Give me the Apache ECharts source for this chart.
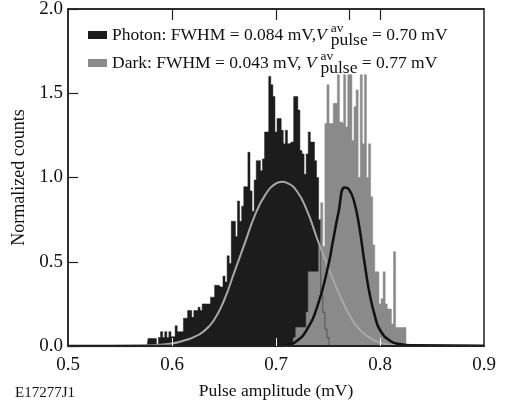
<!DOCTYPE html>
<html>
<head>
<meta charset="utf-8">
<script src="https://cdn.jsdelivr.net/npm/echarts@6.0.0/dist/echarts.min.js"></script>
<style>
  html, body { margin: 0; padding: 0; background: #fff; }
  #main { width: 510px; height: 401px; }
</style>
</head>
<body>
<div id="main"></div>
<script>
// histogram bins (mV), 0.002 mV wide
const binWidth = 0.002;
const photonStart = 0.576;
const photonCounts = [
  0, 0.045, 0.045, 0.045, 0.045, 0.01, 0.05, 0.085, 0.05, 0.085,
  0.05, 0.085, 0.055, 0.055, 0.12, 0.085, 0.085, 0.085, 0.165, 0.165,
  0.21, 0.21, 0.17, 0.21, 0.21, 0.23, 0.21, 0.25, 0.25, 0.25,
  0.25, 0.29, 0.29, 0.36, 0.36, 0.35, 0.35, 0.415, 0.38, 0.535,
  0.49, 0.74, 0.74, 0.65, 0.86, 0.74, 0.83, 0.945, 0.945, 1.15,
  0.92, 0.80, 0.985, 1.10, 1.10, 1.04, 1.11, 1.27, 1.27, 1.60,
  1.55, 1.48, 1.27, 1.35, 1.35, 1.28, 1.20, 1.28, 1.20, 1.21,
  1.21, 1.48, 1.48, 1.40, 1.16, 1.14, 1.02, 1.14, 1.27, 1.21,
  1.21, 1.10, 1.00, 0.75, 0.30, 0.20, 0.10, 0.05, 0
];
const darkStart = 0.716;
const darkCounts = [
  0, 0.05, 0.11, 0.11, 0.11, 0.11, 0.11, 0.2, 0.44, 0.44,
  0.44, 0.44, 0.44, 0.6, 0.85, 0.59, 1.32, 1.55, 1.32, 1.32,
  1.44, 1.44, 1.61, 1.33, 1.32, 1.61, 1.30, 1.61, 1.61, 1.22,
  1.42, 1.52, 1.0, 1.61, 1.2, 1.61, 1.0, 1.2, 0.886, 0.6,
  0.44, 0.44, 0.25, 0.28, 0.44, 0.25, 0.22, 0.22, 0.13, 0.56,
  0.11, 0.11, 0.11, 0.11, 0.11, 0
];

// gaussian fit curves
const photonFitX = [0.50, 0.58, 0.60, 0.61, 0.62, 0.63, 0.64, 0.65, 0.66, 0.67, 0.68, 0.69, 0.70, 0.706, 0.71, 0.72, 0.73, 0.74, 0.75, 0.76, 0.77, 0.78, 0.79, 0.80, 0.82, 0.90];
const photonFitY = [0, 0.005, 0.015, 0.03, 0.05, 0.085, 0.15, 0.27, 0.44, 0.61, 0.78, 0.9, 0.965, 0.975, 0.97, 0.92, 0.8, 0.63, 0.47, 0.32, 0.19, 0.1, 0.05, 0.02, 0.004, 0];
const darkFitX = [0.50, 0.70, 0.71, 0.72, 0.73, 0.74, 0.75, 0.755, 0.76, 0.766, 0.77, 0.775, 0.78, 0.785, 0.79, 0.795, 0.80, 0.81, 0.82, 0.83, 0.90];
const darkFitY = [0, 0, 0.005, 0.03, 0.1, 0.24, 0.47, 0.63, 0.79, 0.94, 0.93, 0.86, 0.71, 0.5, 0.31, 0.18, 0.095, 0.03, 0.01, 0.004, 0.002];

const xTicks = [0.6, 0.7, 0.8];
const topTicks = [0.6, 0.7, 0.77, 0.8];

const serif = "Liberation Serif";
const ink = "#111";

function binned(start, counts) {
  return counts.map((c, i) => [+(start + i * binWidth).toFixed(4), c]);
}
function paired(xs, ys) {
  return xs.map((x, i) => [x, ys[i]]);
}

const chart = echarts.init(document.getElementById("main"));

const rich = {
  m: { fontFamily: serif, fontSize: 17.5, color: ink, lineHeight: 28, verticalAlign: "middle" },
  it: { fontFamily: serif, fontSize: 17.5, color: ink, lineHeight: 28, fontStyle: "italic", verticalAlign: "middle" },
  sup: { fontFamily: serif, fontSize: 13.5, color: ink, lineHeight: 14, verticalAlign: "top", width: 0, padding: [0, 0, 0, 4] },
  sub: { fontFamily: serif, fontSize: 17.5, color: ink, lineHeight: 20, verticalAlign: "bottom" },
};

const legendText = {
  Photon: "{m|Photon: FWHM = 0.084 mV,}{it|V}{sup|av}{sub|pulse}{m| = 0.70 mV}",
  Dark: "{m|Dark: FWHM = 0.043 mV, }{it|V}{sup|av}{sub|pulse}{m| = 0.77 mV}",
};

const options = {
  animation: false,
  grid: {
    left: 68, right: 26, top: 9, bottom: 55,
    outerBoundsMode: "none",
    show: true, borderColor: "#222", borderWidth: 1.5,
  },
  legend: {
    data: ["Photon", "Dark"],
    orient: "vertical",
    left: 88,
    top: 21,
    padding: 0,
    icon: "rect",
    itemWidth: 19,
    itemHeight: 8,
    itemGap: 0,
    formatter: (name) => legendText[name],
    textStyle: { fontFamily: serif, fontSize: 17.5, color: ink, rich },
  },
  xAxis: [
    {
      type: "value",
      min: 0.5,
      max: 0.9,
      interval: 0.1,
      z: 5,
      name: "Pulse amplitude (mV)",
      nameLocation: "middle",
      nameGap: 36,
      nameTextStyle: { fontFamily: serif, fontSize: 17.5, color: ink },
      axisLine: { lineStyle: { color: "#222", width: 2 } },
      axisTick: { inside: true, length: 8, customValues: xTicks, lineStyle: { color: "#fff", width: 1 } },
      axisLabel: { fontFamily: serif, fontSize: 19, color: ink, margin: 10, formatter: (v) => v.toFixed(1) },
      splitLine: { show: false },
    },
    {
      type: "value",
      min: 0.5,
      max: 0.9,
      position: "top",
      z: 5,
      axisLine: { show: true, lineStyle: { color: "#222", width: 1.5 } },
      axisTick: { inside: true, length: 11, customValues: topTicks, lineStyle: { color: "#222", width: 1.2 } },
      axisLabel: { show: false },
      splitLine: { show: false },
    },
  ],
  yAxis: {
    type: "value",
    min: 0,
    max: 2,
    interval: 0.5,
    z: 5,
    name: "Normalized counts",
    nameLocation: "middle",
    nameGap: 35,
    nameTextStyle: { fontFamily: serif, fontSize: 18, color: ink },
    axisLine: { show: true, lineStyle: { color: "#222", width: 1.5 } },
    axisTick: { inside: true, length: 10, lineStyle: { color: "#222", width: 1.2 } },
    axisLabel: { fontFamily: serif, fontSize: 19, color: ink, margin: 5, formatter: (v) => v.toFixed(1) },
    splitLine: { show: false },
  },
  graphic: [
    { type: "text", left: 15, top: 386, style: { text: "E17277J1", fontFamily: serif, fontSize: 15, fill: ink } },
  ],
  series: [
    {
      name: "Photon",
      type: "line",
      step: "middle",
      showSymbol: false,
      data: binned(photonStart, photonCounts),
      itemStyle: { color: "#1c1c1c" },
      lineStyle: { color: "#1c1c1c", width: 0.5 },
      areaStyle: { color: "#1c1c1c", opacity: 1 },
    },
    {
      name: "Photon fit",
      type: "line",
      smooth: true,
      showSymbol: false,
      data: paired(photonFitX, photonFitY),
      lineStyle: { color: "#a8a8a8", width: 2 },
    },
    {
      name: "Dark",
      type: "line",
      step: "middle",
      showSymbol: false,
      data: binned(darkStart, darkCounts),
      itemStyle: { color: "#8a8a8a" },
      lineStyle: { color: "#8a8a8a", width: 0.5 },
      areaStyle: { color: "#8a8a8a", opacity: 1 },
    },
    {
      name: "Dark fit",
      type: "line",
      smooth: true,
      showSymbol: false,
      data: paired(darkFitX, darkFitY),
      lineStyle: { color: "#111", width: 2.5 },
    },
  ],
};

chart.setOption(options);
</script>
</body>
</html>
